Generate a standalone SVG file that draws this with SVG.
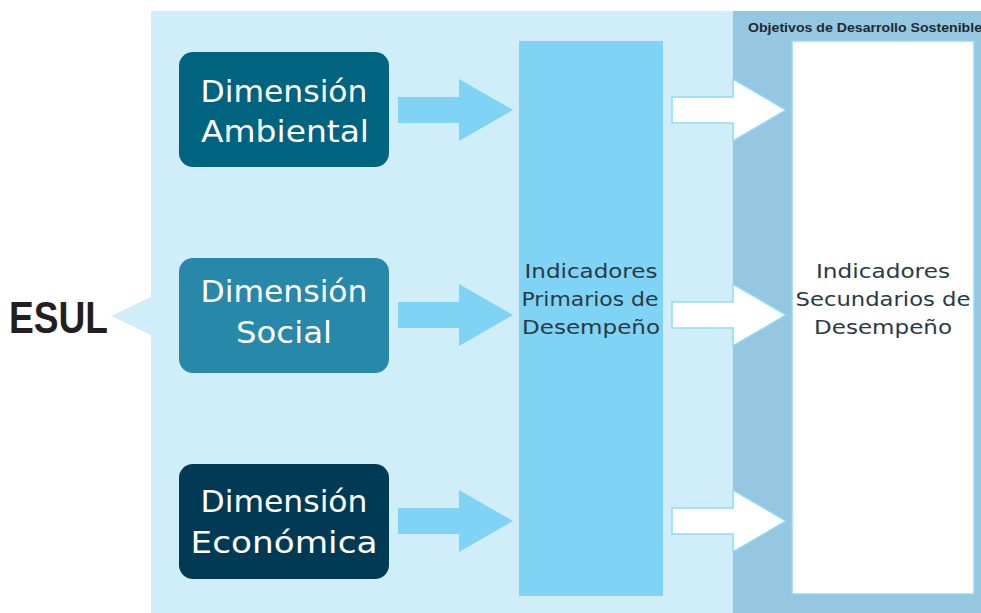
<svg xmlns="http://www.w3.org/2000/svg" width="981" height="613" viewBox="0 0 981 613">
<style>
.dim{font-family:"DejaVu Sans","Liberation Sans",sans-serif;font-size:31px;fill:#ffffff;text-anchor:middle}
.ind{font-family:"DejaVu Sans","Liberation Sans",sans-serif;font-size:19.5px;fill:#2a3a44;text-anchor:middle}
.a1{fill:#7FD3F5}
.a2{fill:#ffffff;stroke:#8FDAF7;stroke-width:1.5}
</style>
<rect x="0" y="0" width="981" height="613" fill="#ffffff"/>
<g id="panel">
<rect x="151" y="11" width="830" height="602" fill="#D0EEF9"/>
<polygon points="111,316 151,297 151,335" fill="#D0EEF9"/>
</g>
<g id="ods">
<rect x="733" y="11" width="248" height="602" fill="#95C7E1"/>
<text x="748" y="32" font-family="Liberation Sans,Arial,sans-serif" font-size="13" font-weight="bold" fill="#1f2a30" textLength="234" lengthAdjust="spacingAndGlyphs">Objetivos de Desarrollo Sostenible</text>
</g>
<g id="esul">
<text x="9" y="333" font-family="Liberation Sans,Arial,sans-serif" font-size="44" font-weight="bold" fill="#231F20" textLength="99" lengthAdjust="spacingAndGlyphs">ESUL</text>
</g>
<g id="dim-ambiental">
<rect x="179" y="52" width="210" height="115" rx="14" fill="#00637F"/>
<text class="dim" x="284" y="102" textLength="167" lengthAdjust="spacingAndGlyphs">Dimensión</text>
<text class="dim" x="285" y="142" textLength="168" lengthAdjust="spacingAndGlyphs">Ambiental</text>
</g>
<g id="dim-social">
<rect x="179" y="258" width="210" height="115" rx="14" fill="#2788A9"/>
<text class="dim" x="284" y="302" textLength="167" lengthAdjust="spacingAndGlyphs">Dimensión</text>
<text class="dim" x="284" y="343" textLength="96" lengthAdjust="spacingAndGlyphs">Social</text>
</g>
<g id="dim-economica">
<rect x="179" y="464" width="210" height="115" rx="14" fill="#003A54"/>
<text class="dim" x="284" y="512" textLength="167" lengthAdjust="spacingAndGlyphs">Dimensión</text>
<text class="dim" x="284" y="553" textLength="187" lengthAdjust="spacingAndGlyphs">Económica</text>
</g>
<g id="primarios">
<rect x="519" y="41" width="144" height="555" fill="#7FD3F5"/>
<text class="ind" x="591" y="278" textLength="133" lengthAdjust="spacingAndGlyphs">Indicadores</text>
<text class="ind" x="590" y="306" textLength="137" lengthAdjust="spacingAndGlyphs">Primarios de</text>
<text class="ind" x="591" y="334" textLength="138" lengthAdjust="spacingAndGlyphs">Desempeño</text>
</g>
<g id="secundarios">
<rect x="792" y="41" width="182" height="553" fill="#ffffff" stroke="#8FDAF7" stroke-width="1.5"/>
<text class="ind" x="883" y="278" textLength="134" lengthAdjust="spacingAndGlyphs">Indicadores</text>
<text class="ind" x="883" y="306" textLength="175" lengthAdjust="spacingAndGlyphs">Secundarios de</text>
<text class="ind" x="883" y="334" textLength="138" lengthAdjust="spacingAndGlyphs">Desempeño</text>
</g>
<g id="connectors">
<polygon class="a1" points="398,97 459,97 459,79 513,110 459,141 459,123 398,123"/>
<polygon class="a1" points="398,302 459,302 459,284 513,315 459,346 459,328 398,328"/>
<polygon class="a1" points="398,508 459,508 459,490 513,521 459,552 459,534 398,534"/>
<polygon class="a2" points="672,97 733,97 733,79 786,110 733,141 733,123 672,123"/>
<polygon class="a2" points="672,302 733,302 733,284 786,315 733,346 733,328 672,328"/>
<polygon class="a2" points="672,508 733,508 733,490 786,521 733,552 733,534 672,534"/>
</g>
</svg>
